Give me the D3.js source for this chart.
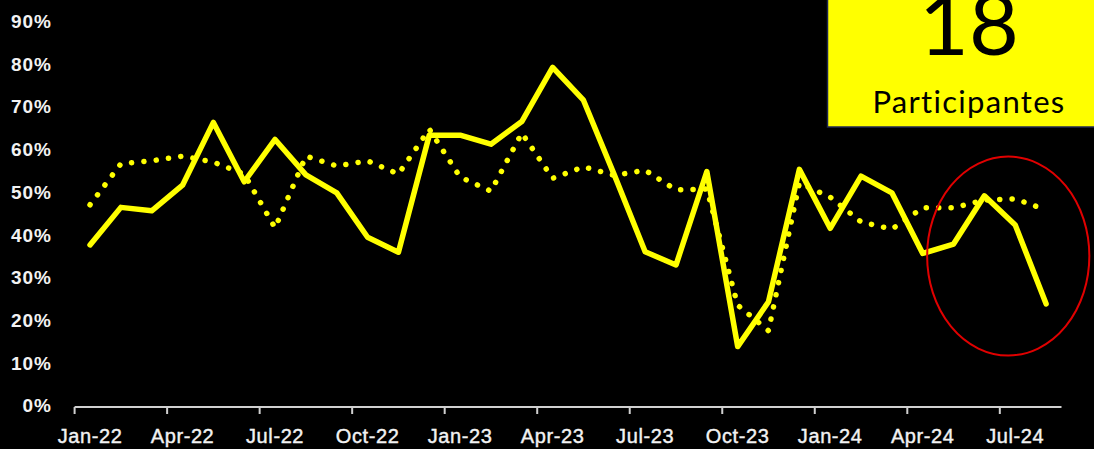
<!DOCTYPE html>
<meta charset="utf-8">
<head>
  <title>Participación</title>
  <style>
    html, body { margin: 0; padding: 0; background: #000; }
    svg { display: block; }
  </style>
</head>
<body>
<script src="https://cdnjs.cloudflare.com/ajax/libs/d3/7.8.5/d3.min.js"></script>
<script>

const months = [
  "Jan-22", "Feb-22", "Mar-22", "Apr-22", "May-22", "Jun-22", "Jul-22", "Aug-22",
  "Sep-22", "Oct-22", "Nov-22", "Dec-22", "Jan-23", "Feb-23", "Mar-23", "Apr-23",
  "May-23", "Jun-23", "Jul-23", "Aug-23", "Sep-23", "Oct-23", "Nov-23", "Dec-23",
  "Jan-24", "Feb-24", "Mar-24", "Apr-24", "May-24", "Jun-24", "Jul-24", "Aug-24"
];

// solid line
const actual = [
  37.6, 46.4, 45.6, 51.6, 66.3, 52.4, 62.3, 54.0,
  49.8, 39.4, 35.9, 63.3, 63.3, 61.2, 66.5, 79.2,
  71.5, 54.0, 36.0, 32.9, 54.8, 13.8, 24.3, 55.3,
  41.5, 53.7, 49.8, 35.6, 37.8, 49.1, 42.3, 23.8
];

// dotted line
const referencia = [
  47.0, 56.6, 57.3, 58.4, 57.0, 54.2, 41.6, 58.4,
  56.1, 57.3, 54.2, 64.7, 53.5, 50.2, 63.8, 53.2,
  55.9, 53.9, 55.1, 50.5, 50.7, 23.5, 17.5, 52.1,
  48.8, 43.0, 41.3, 46.3, 46.3, 48.1, 48.4, 45.8
];

const xTickLabels = ["Jan-22", "Apr-22", "Jul-22", "Oct-22", "Jan-23", "Apr-23",
                     "Jul-23", "Oct-23", "Jan-24", "Apr-24", "Jul-24"];
const yTicks = [0, 10, 20, 30, 40, 50, 60, 70, 80, 90];

const participantes = "18";
const participantesLabel = "Participantes";

const totalWidth = 1094, totalHeight = 449;

const svg = d3.select("body")
  .append("svg")
  .attr("width", totalWidth)
  .attr("height", totalHeight)
  .style("background", "#000");

const x = d3.scaleBand()
  .domain(months)
  .range([74.6, 1061.5])
  .padding(0);

const xc = m => x(m) + x.bandwidth() / 2;

const y = d3.scaleLinear()
  .domain([0, 90])
  .range([405.5, 21.2]);

// y labels
svg.append("g")
  .selectAll("text")
  .data(yTicks)
  .join("text")
  .attr("x", 52)
  .attr("y", d => y(d))
  .attr("dy", "0.36em")
  .attr("text-anchor", "end")
  .attr("fill", "#f2f2f2")
  .style("font-family", "Liberation Sans, Arial, sans-serif")
  .style("font-size", "19px")
  .style("font-weight", "bold")
  .style("letter-spacing", "1px")
  .text(d => d + "%");

// x axis
const xAxis = svg.append("g");
xAxis.append("line")
  .attr("x1", x.range()[0])
  .attr("x2", x.range()[1])
  .attr("y1", y(0) + 1.5)
  .attr("y2", y(0) + 1.5)
  .attr("stroke", "#d0d0d0")
  .attr("stroke-width", 2);

xAxis.selectAll(".tick")
  .data(xTickLabels)
  .join("line")
  .attr("class", "tick")
  .attr("x1", d => x(d))
  .attr("x2", d => x(d))
  .attr("y1", y(0) + 1.5)
  .attr("y2", y(0) + 8.5)
  .attr("stroke", "#d0d0d0")
  .attr("stroke-width", 2);

xAxis.selectAll("text")
  .data(xTickLabels)
  .join("text")
  .attr("x", d => xc(d))
  .attr("y", 443)
  .attr("text-anchor", "middle")
  .attr("fill", "#f2f2f2")
  .attr("stroke", "#f2f2f2")
  .attr("stroke-width", 0.4)
  .style("font-family", "Liberation Sans, Arial, sans-serif")
  .style("font-size", "20px")
  .style("letter-spacing", "0.6px")
  .text(d => d);

const line = d3.line()
  .x((d, i) => xc(months[i]))
  .y(d => y(d));

// dotted
svg.append("path")
  .attr("d", line(referencia))
  .attr("fill", "none")
  .attr("stroke", "#ffff00")
  .attr("stroke-width", 5.5)
  .attr("stroke-linecap", "round")
  .attr("stroke-dasharray", "0.1 12.3");

// solid
svg.append("path")
  .attr("d", line(actual))
  .attr("fill", "none")
  .attr("stroke", "#ffff00")
  .attr("stroke-width", 5.5)
  .attr("stroke-linejoin", "round")
  .attr("stroke-linecap", "round");

// red highlight
svg.append("ellipse")
  .attr("cx", xc("Jul-24") - 7)
  .attr("cy", y(35))
  .attr("rx", x.bandwidth() * 2.63)
  .attr("ry", (y(0) - y(23.3)))
  .attr("fill", "none")
  .attr("stroke", "#e00000")
  .attr("stroke-width", 2);

// yellow box
const box = svg.append("g");
box.append("rect")
  .attr("x", 827.5)
  .attr("y", -10)
  .attr("width", 300)
  .attr("height", 137)
  .attr("fill", "#ffff00")
  .attr("stroke", "#1f2750")
  .attr("stroke-width", 1.5);

box.append("text")
  .attr("x", 969)
  .attr("y", 55)
  .attr("text-anchor", "middle")
  .attr("fill", "#000")
  .style("font-family", "Lato, sans-serif")
  .style("font-size", "86px")
  .text(participantes);

box.append("text")
  .attr("x", 969)
  .attr("y", 113)
  .attr("text-anchor", "middle")
  .attr("fill", "#000")
  .style("font-family", "Lato, sans-serif")
  .style("font-size", "31px")
  .style("letter-spacing", "1.3px")
  .text(participantesLabel);

</script>
</body>
</html>
